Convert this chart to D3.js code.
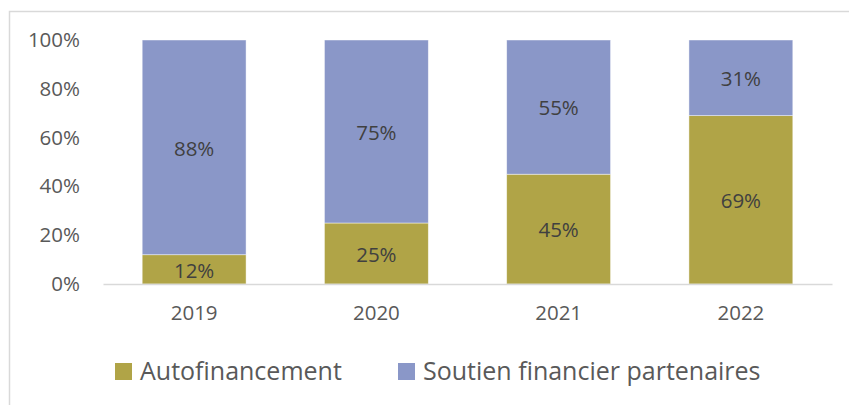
<!DOCTYPE html>
<html>
<head>
<meta charset="utf-8">
<script src="https://cdn.jsdelivr.net/npm/d3@7"></script>
<style>
  body { margin: 0; background: #fff; }
  svg { display: block; }
</style>
</head>
<body>
<svg id="chart"></svg>
<script>
var years = ["2019", "2020", "2021", "2022"];
var autofinancement = [12, 25, 45, 69];
var soutien = [88, 75, 55, 31];
var seriesNames = ["Autofinancement", "Soutien financier partenaires"];
var yTicks = [0, 20, 40, 60, 80, 100];

var colors = ["#b0a447", "#8a97c8"];
var font = "'Open Sans', sans-serif";

var dimensions = {
  width: 849,
  height: 405,
  margin: { top: 40, right: 17, bottom: 121, left: 103 },
};
dimensions.boundedWidth =
  dimensions.width - dimensions.margin.left - dimensions.margin.right;
dimensions.boundedHeight =
  dimensions.height - dimensions.margin.top - dimensions.margin.bottom;

var svg = d3
  .select("#chart")
  .attr("width", dimensions.width)
  .attr("height", dimensions.height);

// outer chart frame (only left and top visible)
svg
  .append("path")
  .attr("d", "M9.5,405 V11.5 H849")
  .attr("fill", "none")
  .attr("stroke", "#d9d9d9")
  .attr("stroke-width", 1.5);

var data = years.map(function (y, i) {
  return { year: y, Autofinancement: autofinancement[i], "Soutien financier partenaires": soutien[i] };
});

var stacked = d3.stack().keys(seriesNames)(data);

var xScale = d3
  .scaleBand()
  .domain(years)
  .range([0, dimensions.boundedWidth])
  .paddingInner(0.43)
  .paddingOuter(0.215);

var yScale = d3
  .scaleLinear()
  .domain([0, 100])
  .range([dimensions.boundedHeight, 0]);

var bounds = svg
  .append("g")
  .attr(
    "transform",
    "translate(" + dimensions.margin.left + "," + dimensions.margin.top + ")"
  );

var yAxis = d3
  .axisLeft(yScale)
  .tickValues(yTicks)
  .tickSize(0)
  .tickPadding(23)
  .tickFormat(function (d) {
    return d + "%";
  });

bounds
  .append("g")
  .call(yAxis)
  .call(function (g) {
    g.select(".domain").remove();
  })
  .selectAll("text")
  .attr("font-family", font)
  .attr("font-size", 20.5)
  .attr("fill", "#595959");

var layers = bounds
  .selectAll(".layer")
  .data(stacked)
  .enter()
  .append("g")
  .attr("fill", function (d, i) {
    return colors[i];
  });

layers
  .selectAll("rect")
  .data(function (d) {
    return d;
  })
  .enter()
  .append("rect")
  .attr("x", function (d) {
    return xScale(d.data.year);
  })
  .attr("width", xScale.bandwidth())
  .attr("y", function (d) {
    return yScale(d[1]);
  })
  .attr("height", function (d) {
    return yScale(d[0]) - yScale(d[1]);
  })
  .attr("stroke", "#ffffff")
  .attr("stroke-opacity", 0.6)
  .attr("stroke-width", 0.75);

layers
  .selectAll("text")
  .data(function (d) {
    return d;
  })
  .enter()
  .append("text")
  .attr("x", function (d) {
    return xScale(d.data.year) + xScale.bandwidth() / 2;
  })
  .attr("y", function (d) {
    return yScale((d[0] + d[1]) / 2);
  })
  .attr("dy", "0.4em")
  .attr("text-anchor", "middle")
  .attr("font-family", font)
  .attr("font-size", 20.5)
  .attr("fill", "#404040")
  .text(function (d) {
    return d[1] - d[0] + "%";
  });

var xAxis = d3.axisBottom(xScale).tickSize(0).tickPadding(21);

bounds
  .append("g")
  .attr("transform", "translate(0," + dimensions.boundedHeight + ")")
  .call(xAxis)
  .call(function (g) {
    g.select(".domain").attr("stroke", "#d9d9d9").attr("stroke-width", 1.5);
  })
  .selectAll("text")
  .attr("font-family", font)
  .attr("font-size", 20.5)
  .attr("fill", "#595959");

// legend
var legendX = [115, 398];
var legend = svg
  .selectAll(".legend")
  .data(seriesNames)
  .enter()
  .append("g")
  .attr("transform", function (d, i) {
    return "translate(" + legendX[i] + ",363)";
  });

legend
  .append("rect")
  .attr("width", 17)
  .attr("height", 17)
  .attr("fill", function (d, i) {
    return colors[i];
  });

legend
  .append("text")
  .attr("x", 25)
  .attr("y", 8.5)
  .attr("dy", "0.35em")
  .attr("font-family", font)
  .attr("font-size", 25)
  .attr("fill", "#595959")
  .text(function (d) {
    return d;
  });
</script>
</body>
</html>
